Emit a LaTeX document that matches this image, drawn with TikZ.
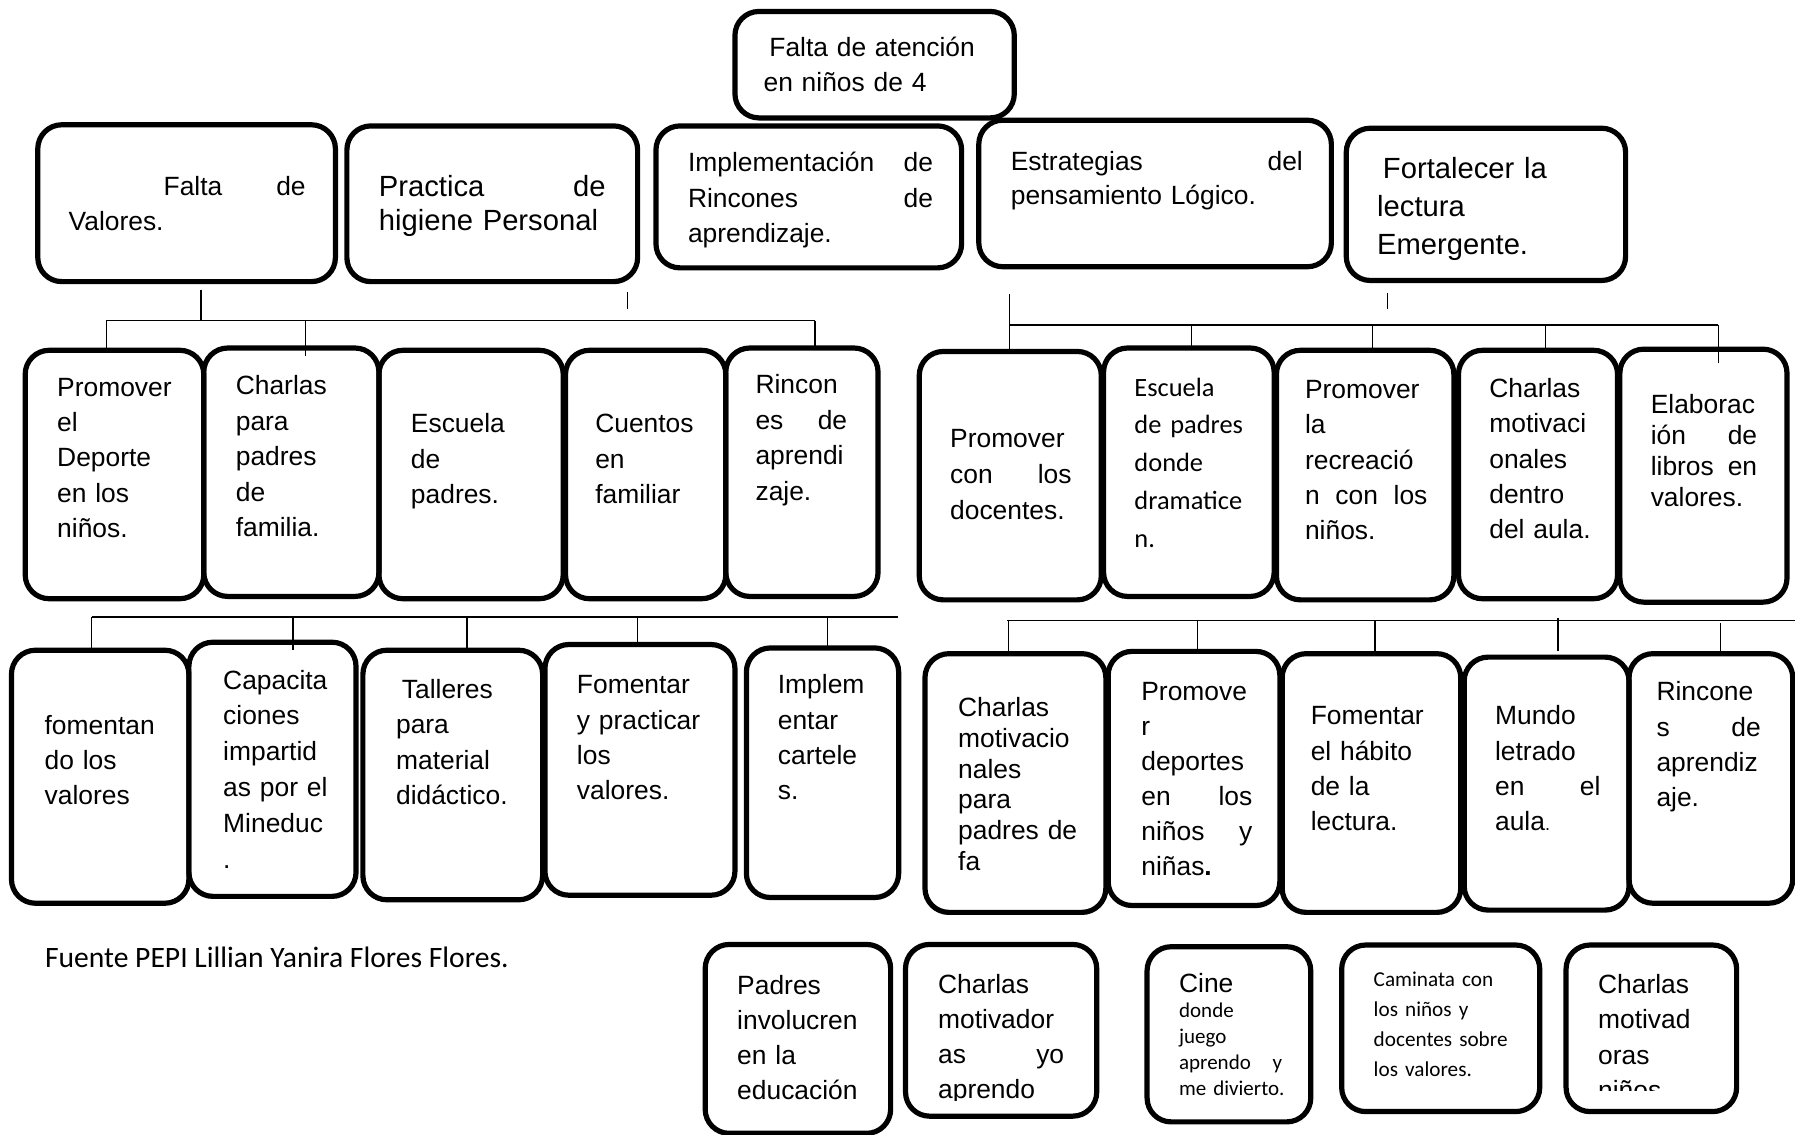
\documentclass[tikz,border=0pt]{standalone}
\usepackage{fontspec}
\setmainfont{Liberation Sans}
\newfontfamily\calfont{Carlito}
\newcommand\mybox[5]{\node[box, minimum width={(#4-#2)*0.5724pt}, minimum height={(#5-#3)*0.5724pt}] (#1) at ({(#2+#4)/2},{(#3+#5)/2}) {};}
\newcommand\seg[5]{\coordinate (#1a) at (#2,#3); \coordinate (#1b) at (#4,#5); \draw[conn] (#1a) -- (#1b);}
\begin{document}
\begin{tikzpicture}[x=0.5724pt, y=-0.5724pt,
 box/.style={draw=black, line width=2.6pt, rounded corners=12pt, inner sep=0pt, outer sep=0pt},
 txt/.style={anchor=base west, inner sep=0pt, outer sep=0pt, align=left, text width=72pt, font={\fontsize{13.2}{17.7}\selectfont}},
 bigtxt/.style={font={\fontsize{14.6}{17.2}\selectfont}},
 caltxt/.style={font={\calfont\fontsize{13.2}{18.9}\selectfont}},
 smallcal/.style={font={\calfont\fontsize{10.6}{14.9}\selectfont}},
 conn/.style={draw=black, line width=0.7pt}]
\useasboundingbox (0,0) rectangle (1568,991);

% ---------- connectors ----------
\seg{ua}{175.5}{253}{175.5}{280}
\seg{ub}{93}{280}{712}{280}
\seg{uc}{93}{280}{93}{304}
\seg{ud}{267}{280}{267}{311}
\seg{ue}{712}{280}{712}{305}
\seg{uf}{548}{255}{548}{270}
\seg{va}{882}{257}{882}{284}
\seg{vb}{882}{284}{1501}{284}
\seg{vc}{882}{284}{882}{306}
\seg{vd}{1041}{284}{1041}{302}
\seg{ve}{1199}{284}{1199}{305}
\seg{vf}{1350}{284}{1350}{306}
\seg{vg}{1501}{284}{1501}{317}
\seg{vh}{1212}{256}{1212}{270}
\seg{wa}{80}{539}{784}{539}
\seg{wb}{80}{539}{80}{568}
\seg{wc}{256}{539}{256}{568}
\seg{wd}{408}{539}{408}{566}
\seg{we}{557}{539}{557}{563}
\seg{wf}{723}{539}{723}{565}
\seg{xa}{880}{542}{1568}{542}
\seg{xb}{881}{542}{881}{569}
\seg{xc}{1046}{542}{1046}{569}
\seg{xd}{1201}{542}{1201}{569}
\seg{xe}{1361}{540}{1361}{569}
\seg{xf}{1503}{544}{1503}{569}

% ---------- top ----------
\mybox{top}{642}{10}{886}{103}
\node[txt, text width=114.5pt] (ttop) at (667,49) {\hspace*{2.9pt}Falta de atención\\en niños de 4};

% ---------- row 1 ----------
\mybox{b1}{33}{109}{293}{246}
\node[txt, text width=118.5pt, font={\fontsize{13.2}{17.2}\selectfont}] (tb1) at (60,171) {\hspace*{47.5pt}Falta\hfill de\\Valores.};
\mybox{b2}{303}{110}{557}{246}
\node[txt, bigtxt, text width=113.3pt] (tb2) at (331,171.5) {Practica\hfill de\\higiene Personal};
\mybox{b3}{573}{110}{840}{234}
\node[txt, text width=122.5pt] (tb3) at (601,150) {Implementación\hfill de\\Rincones\hfill de\\aprendizaje.};
\mybox{b4}{855}{105}{1163}{233}
\node[txt, text width=146pt, font={\fontsize{13.2}{17.2}\selectfont}] (tb4) at (883,149) {Estrategias\hfill del\\pensamiento Lógico.};
\mybox{b5}{1176}{112}{1420}{245}
\node[txt, text width=103pt, font={\fontsize{14.6}{19.2}\selectfont}] (tb5) at (1203,155.5) {\hspace*{2.9pt}Fortalecer la\\lectura\\Emergente.};

% ---------- row 2 left ----------
\mybox{c1}{22}{306}{178}{523}
\node[txt] (tc1) at (50,346) {Promover\\el\\Deporte\\en los\\niños.};
\mybox{c2}{178}{304}{331}{521}
\node[txt] (tc2) at (206,345) {Charlas\\para\\padres\\de\\familia.};
\mybox{c3}{331}{306}{492}{523}
\node[txt] (tc3) at (359,378) {Escuela\\de\\padres.};
\mybox{c4}{494}{306}{634}{523}
\node[txt] (tc4) at (520,378) {Cuentos\\en\\familiar};
\mybox{c5}{634}{304}{767}{521}
\node[txt, text width=45.8pt] (tc5) at (660,344) {Rincon\\es\hfill de\\aprendi\\zaje.};

% ---------- row 2 right ----------
\mybox{c6}{803}{307}{962}{524}
\node[txt, text width=60.7pt, font={\fontsize{13.2}{18}\selectfont}] (tc6) at (830,391) {Promover\\con\hfill los\\docentes.};
\mybox{c7}{964}{304}{1113}{521}
\node[txt, caltxt] (tc7) at (991,346) {Escuela\\de padres\\donde\\dramatice\\n.};
\mybox{c8}{1115}{306}{1270}{524}
\node[txt, text width=61.2pt] (tc8) at (1140,348) {Promover\\la\\recreació\\n\hfill con\hfill los\\niños.};
\mybox{c9}{1274}{306}{1413}{523}
\node[txt] (tc9) at (1301,347) {Charlas\\motivaci\\onales\\dentro\\del aula.};
\mybox{c10}{1415}{305}{1561}{526}
\node[txt, text width=53.2pt, font={\fontsize{13.2}{15.5}\selectfont}] (tc10) at (1442,361) {Elaborac\\ión\hfill de\\libros\hfill en\\valores.};

% ---------- row 3 left ----------
\mybox{d1}{10}{568}{165}{789}
\node[txt, font={\fontsize{13.2}{17.5}\selectfont}] (td1) at (39,642) {fomentan\\do los\\valores};
\mybox{d2}{165}{561}{311}{783}
\node[txt, font={\fontsize{13.2}{17.9}\selectfont}] (td2) at (195,602) {Capacita\\ciones\\impartid\\as por el\\Mineduc\\.};
\mybox{d3}{317}{568}{474}{786}
\node[txt] (td3) at (346,610) {\hspace*{2.9pt}Talleres\\para\\material\\didáctico.};
\mybox{d4}{476}{563}{642}{782}
\node[txt] (td4) at (504,606) {Fomentar\\y practicar\\los\\valores.};
\mybox{d5}{652}{566}{785}{784}
\node[txt] (td5) at (679.5,606) {Implem\\entar\\cartele\\s.};

% ---------- row 3 right ----------
\mybox{e1}{808}{571}{966}{797}
\node[txt, text width=59.5pt, font={\fontsize{13.2}{15.35}\selectfont}] (te1) at (837,626) {Charlas\\motivacio\\nales\\para\\padres\hfill de\\fa};
\mybox{e2}{968}{569}{1118}{791}
\node[txt, text width=55.5pt, font={\fontsize{13.2}{17.5}\selectfont}] (te2) at (997,612) {Promove\\r\\deportes\\en\hfill los\\niños\hfill y\\niñas\textbf{.}};
\mybox{e3}{1120}{571}{1276}{797}
\node[txt] (te3) at (1145,633) {Fomentar\\el hábito\\de la\\lectura.};
\mybox{e4}{1279}{574}{1423}{795}
\node[txt, text width=52.7pt] (te4) at (1306,633) {Mundo\\letrado\\en\hfill el\\aula{\fontsize{9}{9}\selectfont.}};
\mybox{e5}{1423}{571}{1566}{789}
\node[txt, text width=52.1pt] (te5) at (1447,612) {Rincone\\s\hfill de\\aprendiz\\aje.};

% ---------- footnote ----------
\node[anchor=base west, inner sep=0pt, font={\calfont\fontsize{14.8}{17}\selectfont}] (fn) at (39,845) {Fuente PEPI Lillian Yanira Flores Flores.};

% ---------- row 4 ----------
\mybox{f1}{616}{825}{778}{990}
\node[txt, font={\fontsize{13.2}{17.4}\selectfont}] (tf1) at (644,869) {Padres\\involucren\\en la\\educación};
\mybox{f2}{791}{825}{958}{975}
\begin{scope}
\clip (791,825) rectangle (958,961);
\node[txt, text width=63pt, font={\fontsize{13.2}{17.4}\selectfont}] (tf2) at (819.5,868) {Charlas\\motivador\\as\hfill yo\\aprendo};
\end{scope}
\mybox{f3}{1002}{827}{1145}{980}
\node[txt] (tf3a) at (1030,867) {Cine};
\node[txt, text width=51.5pt, font={\calfont\fontsize{10.5}{13}\selectfont}] (tf3b) at (1030,889) {donde\\juego\\aprendo\hfill y\\\mbox{me divierto.}};
\mybox{f4}{1172}{825.5}{1345}{971}
\node[txt, text width=80pt, smallcal] (tf4) at (1200,862) {Caminata con\\los niños y\\docentes sobre\\los valores.};
\mybox{f5}{1368}{825.5}{1517}{971}
\begin{scope}
\clip (1368,825) rectangle (1517,953);
\node[txt, font={\fontsize{13.2}{17.6}\selectfont}] (tf5) at (1396,868) {Charlas\\motivad\\oras\\niños};
\end{scope}
\end{tikzpicture}
\end{document}
